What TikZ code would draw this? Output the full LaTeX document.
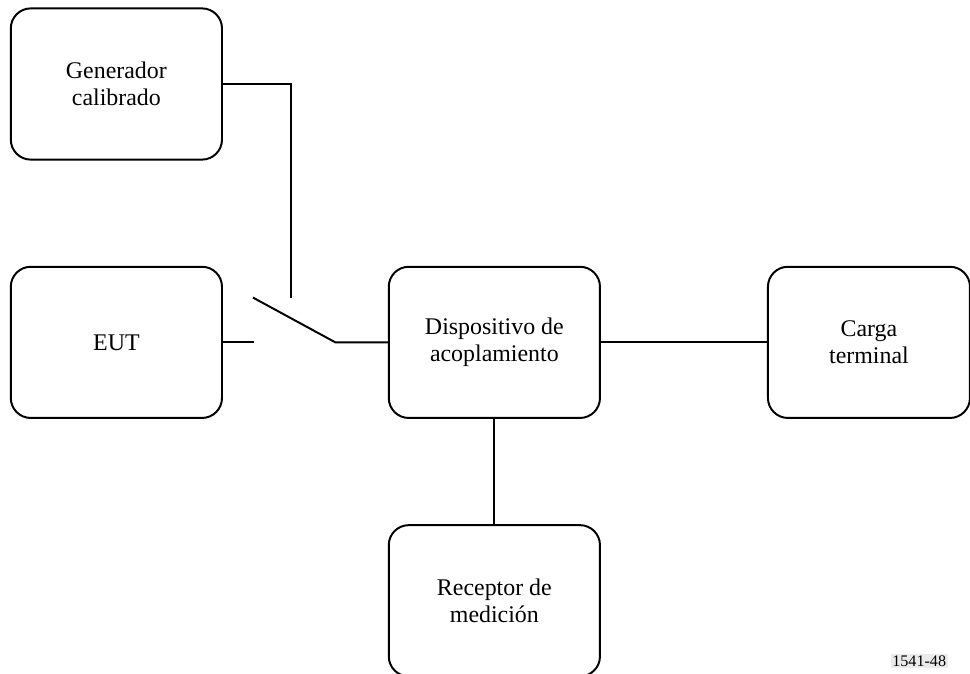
\documentclass[tikz,border=0pt]{standalone}
\usepackage{fontspec}
\setmainfont{Liberation Serif}
\usetikzlibrary{positioning,calc}
\tikzset{
  node distance=2.63cm and 4.12cm,
  blk/.style={draw=black,line width=1.4pt,rounded corners=0.5cm,
    minimum width=5.28cm,minimum height=3.78cm,align=center,inner sep=2pt,
    font=\fontsize{17}{19}\selectfont},
  wire/.style={line width=1.4pt,black},
  figno/.style={font=\fontsize{11.5}{13}\selectfont,fill=black!8,inner sep=1pt},
}
\begin{document}
\begin{tikzpicture}
  \useasboundingbox (0,0) rectangle (24.25,-16.825);
  \node[blk] (gen) at (2.91,-2.10) {Generador\\calibrado};
  \node[blk,below=of gen] (eut) {EUT};
  \node[blk,right=of eut] (acop) {Dispositivo de\\acoplamiento};
  \node[blk,right=4.15cm of acop,minimum width=5.05cm] (carga) {Carga\\terminal};
  \node[blk,below=of acop] (recep) {Receptor de\\medición};
  % switch
  \coordinate (stub) at ($(eut.east)+(0.78,0)$);
  \coordinate (pivot) at ($(eut.east)+(2.81,0)$);
  \coordinate (blade) at ($(eut.east)+(0.75,1.12)$);
  \coordinate (contact) at ($(eut.east)+(1.71,1.12)$);
  \draw[wire] (gen.east) -| (contact);
  \draw[wire] (eut.east) -- (stub);
  \draw[wire] (blade) -- (pivot) -- (acop.west);
  \draw[wire] (acop.east) -- (carga.west);
  \draw[wire] (acop.south) -- (recep.north);
  \node[figno] (fig) at (22.98,-16.52) {1541-48};
\end{tikzpicture}
\end{document}
